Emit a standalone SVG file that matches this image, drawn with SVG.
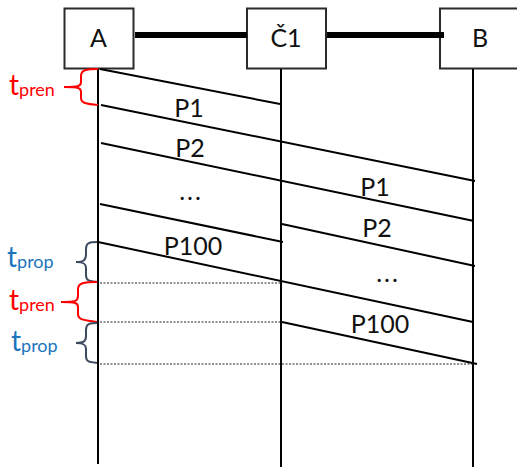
<svg xmlns="http://www.w3.org/2000/svg" width="517" height="468" viewBox="0 0 517 468">
<style>
.box{fill:#fff;stroke:#2b2b2b;stroke-width:2}
.life{stroke:#000;stroke-width:2;fill:none}
.msg{stroke:#000;stroke-width:2;fill:none}
.link{stroke:#000;stroke-width:6;fill:none}
.dot{stroke:#222;stroke-width:1;stroke-dasharray:2 1.5;fill:none}
.red{stroke:#f00;stroke-width:2;fill:none}
.navy{stroke:#3c4a5f;stroke-width:2;fill:none}
text{font-family:"Lato","Liberation Sans",sans-serif}
.lbl{font-size:25px;fill:#111;text-anchor:middle}
.dots{letter-spacing:2px}
.big{font-size:28px}
.sub{font-size:18px}
</style>
<g id="node-a"><rect class="box" x="64.500" y="8.500" width="69" height="60"/><text class="lbl" x="98.500" y="47">A</text></g>
<g id="node-c1"><rect class="box" x="247" y="8.500" width="79" height="60"/><text class="lbl" x="286" y="47">Č1</text></g>
<g id="node-b"><rect class="box" x="440" y="8.500" width="78" height="60"/><text class="lbl" x="480" y="47">B</text></g>
<g id="connectors">
<path class="link" d="M135 35H247M327 35H444"/>
<path class="life" d="M98 69V464M281 69V467M473 69V467"/>
<path class="msg" d="M100 69L280 104M101 105L475 181M101 143L474 221M100 204L283 242M282 224L475 266M98 242L473 322M282 322L477 364"/>
<path class="dot" d="M100 283H281M100 322H281M100 364H473"/>
</g>
<g id="packet-labels">
<text class="lbl" x="189" y="117">P1</text>
<text class="lbl" x="190" y="157">P2</text>
<text class="lbl dots" x="191" y="200">...</text>
<text class="lbl" x="193" y="255">P100</text>
<text class="lbl" x="375" y="196">P1</text>
<text class="lbl" x="377" y="237">P2</text>
<text class="lbl dots" x="388" y="282">...</text>
<text class="lbl" x="380" y="333">P100</text>
</g>
<g id="brace-pren-1"><path class="red" d="M98 69C86 69 81 70 81 76V82C81 86 79 87 64 87M64 87C79 87 81 88 81 92V98C81 103 86 104 98 105"/><text x="9" y="95" fill="#f00" class="big">t<tspan class="sub" dy="1">pren</tspan></text></g>
<g id="brace-prop-1"><path class="navy" d="M97 242C89 242 86 243 86 249V254C86 260 84 262 76 262C84 262 86 264 86 268V275C86 281 89 281 97 282"/><text x="7" y="267" fill="#1c75bc" class="big">t<tspan class="sub" dy="1">prop</tspan></text></g>
<g id="brace-pren-2"><path class="red" d="M97 282C84 282 78 283 78 289V296C78 301 76 302 61 302C76 302 78 303 78 307V314C78 320 84 320 97 322"/><text x="9" y="310" fill="#f00" class="big">t<tspan class="sub" dy="1">pren</tspan></text></g>
<g id="brace-prop-2"><path class="navy" d="M97 323C89 323 86 324 86 330V336C86 341 84 343 76 343C84 343 86 345 86 349V356C86 362 89 362 97 363"/><text x="11" y="351" fill="#1c75bc" class="big">t<tspan class="sub" dy="1">prop</tspan></text></g>
</svg>
